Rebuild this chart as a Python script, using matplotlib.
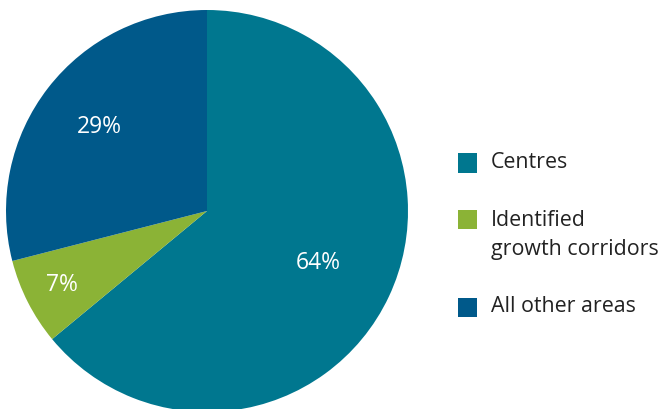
import matplotlib
matplotlib.use("Agg")
import matplotlib.pyplot as plt
from matplotlib.patches import Rectangle
import numpy as np

categories = ["Centres", "Identified\ngrowth corridors", "All other areas"]
values = [64, 7, 29]
colors = ["#00778F", "#8BB336", "#00598A"]
pct_dist = [0.61, 0.81, 0.68]

plt.rcParams['font.family'] = ['Open Sans', 'DejaVu Sans']

W, H = 662, 409
fig = plt.figure(figsize=(W / 100, H / 100), dpi=100)
fig.patch.set_facecolor("white")

cx, cy, r = 207, 211, 201
ax = fig.add_axes([(cx - r) / W, (H - cy - r) / H, 2 * r / W, 2 * r / H])
wedges, texts = ax.pie(values, colors=colors, startangle=90, counterclock=False,
                       radius=1.0, wedgeprops=dict(linewidth=0))
ax.set_xlim(-1, 1)
ax.set_ylim(-1, 1)
ax.set_aspect("auto")
ax.axis("off")

for w, v, d in zip(wedges, values, pct_dist):
    ang = np.deg2rad((w.theta1 + w.theta2) / 2)
    ax.text(d * np.cos(ang), d * np.sin(ang), f"{v}%", color="white",
            fontsize=16.5, ha="center", va="center")

# manual legend
sq_y = [163, 219, 307]
txt_y = [163, 234.5, 307]
sq = 19
for lab, col, ys, yt in zip(categories, colors, sq_y, txt_y):
    fig.patches.append(Rectangle((458 / W, (H - ys - sq / 2) / H), sq / W, sq / H,
                                 transform=fig.transFigure, facecolor=col,
                                 edgecolor="none"))
    fig.text(491 / W, (H - yt) / H, lab, fontsize=15.4, color="#222222",
             ha="left", va="center", linespacing=1.5)

fig.savefig("out.png", dpi=100)
